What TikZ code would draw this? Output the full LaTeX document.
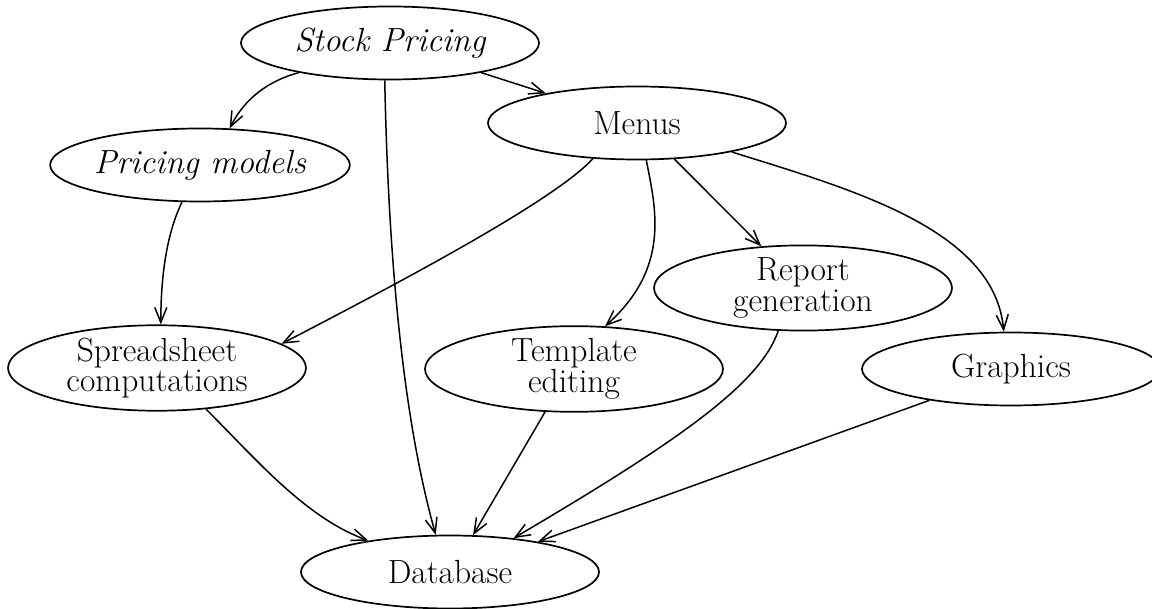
\documentclass[tikz,border=0pt]{standalone}
\usetikzlibrary{shapes.geometric,arrows.meta}
\begin{document}
\begin{tikzpicture}[x=1pt,y=-1pt,
  module/.style={ellipse,draw,line width=1.7pt,minimum width=298pt,minimum height=73pt,
    inner sep=0pt,align=center,font=\fontsize{33.5}{30.5}\selectfont},
  link/.style={line width=1.5pt,-{Straight Barb[length=15pt,width=12pt]}}]
\useasboundingbox (0,0) rectangle (1152,609);

% modules
\node[module] (stock)   at (390,43)  {\itshape Stock Pricing};
\node[module] (models)  at (200,165) {\itshape Pricing models};
\node[module] (menus)   at (637,123) {Menus};
\node[module] (sheet)   at (157,368) {Spreadsheet\\computations};
\node[module] (templ)   at (574,369) {Template\\editing};
\node[module] (report)  at (803,288) {Report\\generation};
\node[module] (graph)   at (1011,369) {Graphics};
\node[module] (db)      at (450,572) {Database};

% calls
\draw[link] (stock.-162) .. controls +(-30,8) and +(15,-30) .. (models.51);
\draw[link] (stock.-98) .. controls +(5,250) and +(-21,-75) .. (db.111);
\draw[link] (stock.-18) -- (menus.162);
\draw[link] (models.-116) .. controls +(-12,25) and +(0,-60) .. (sheet.85);
\draw[link] (menus.-141) .. controls +(-37,40) and +(137,-71) .. (sheet.11);
\draw[link] (menus.-76) .. controls +(10,50) and +(65,-58) .. (templ.54);
\draw[link] (menus.-44) -- (report.135);
\draw[link] (menus.-17) .. controls +(118,37) and +(-9,-103) .. (graph.101);
\draw[link] (sheet.-40) .. controls +(50,50) and +(-63,-23) .. (db.159);
\draw[link] (templ.-124) -- (db.58);
\draw[link] (report.-120) .. controls +(-18,52) and +(170,-100) .. (db.28);
\draw[link] (graph.-159) -- (db.19);
\end{tikzpicture}
\end{document}
